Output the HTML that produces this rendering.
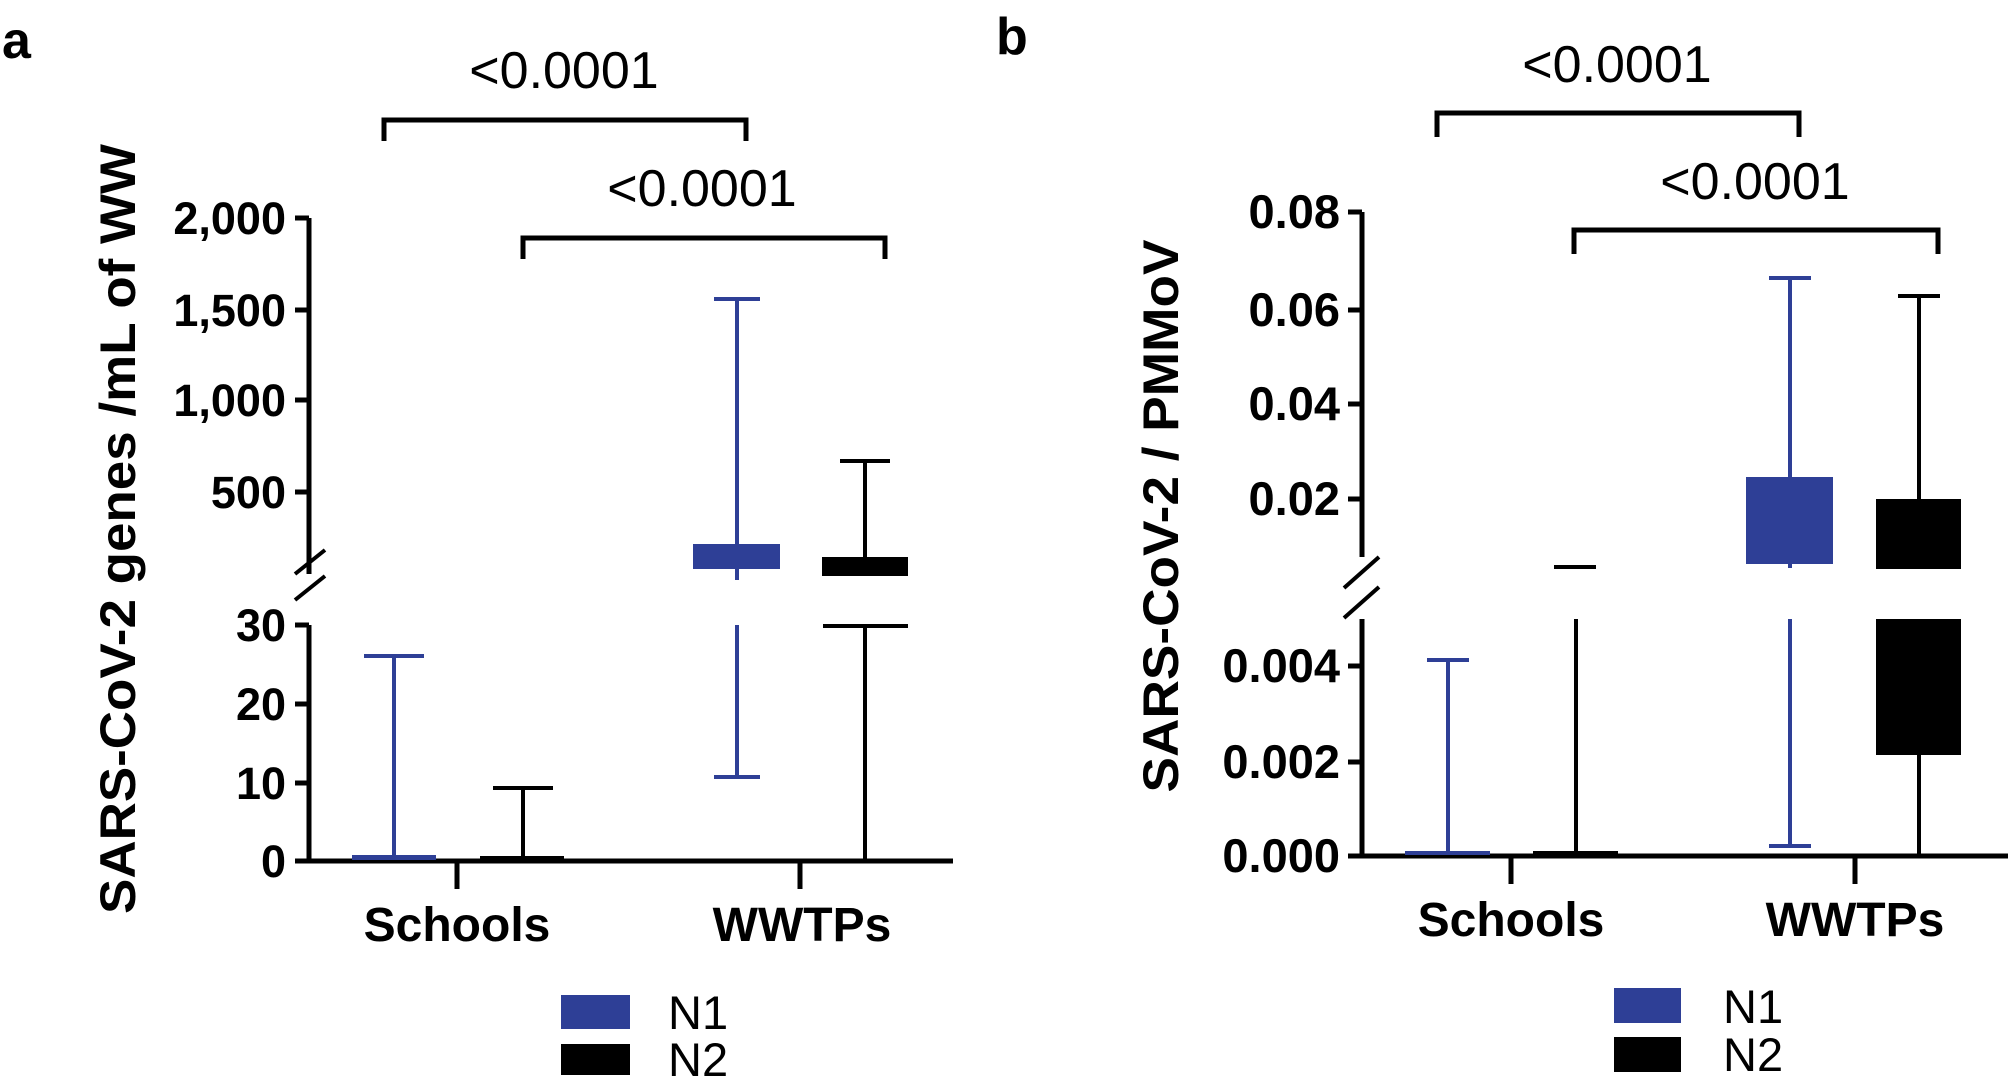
<!DOCTYPE html>
<html><head><meta charset="utf-8"><style>
html,body{margin:0;padding:0;background:#fff;}
svg{display:block;}
text{font-family:"Liberation Sans",Arial,sans-serif;}
.b{font-weight:bold;}
</style></head><body>
<svg width="2008" height="1091" viewBox="0 0 2008 1091" xmlns="http://www.w3.org/2000/svg">
<g stroke-linecap="butt">
<!-- Panel a -->
<text x="2" y="58" class="b" font-size="52">a</text>
<text x="564" y="88" font-size="52" text-anchor="middle">&lt;0.0001</text>
<path d="M384 141 V120 H746 V141" fill="none" stroke="#000" stroke-width="5"/>
<text x="702" y="206" font-size="52" text-anchor="middle">&lt;0.0001</text>
<path d="M523 259 V238 H885 V259" fill="none" stroke="#000" stroke-width="5"/>
<text transform="translate(135,529) rotate(-90)" class="b" font-size="50" text-anchor="middle" textLength="770" lengthAdjust="spacingAndGlyphs">SARS-CoV-2 genes /mL of WW</text>
<path d="M309 218 V574 M309 625 V861 H953" fill="none" stroke="#000" stroke-width="5"/>
<path d="M295 218 H309 M295 310 H309 M295 400 H309 M295 492 H309 M295 625 H309 M295 704 H309 M295 783 H309 M295 861 H309" stroke="#000" stroke-width="5"/>
<path d="M295 574 L325 550 M295 600 L325 576" stroke="#000" stroke-width="4"/>
<path d="M457 861 V889 M800 861 V889" stroke="#000" stroke-width="5"/>
<g class="b" font-size="45" text-anchor="end">
<text x="286" y="234">2,000</text><text x="286" y="326">1,500</text><text x="286" y="416">1,000</text><text x="286" y="508">500</text>
<text x="286" y="641">30</text><text x="286" y="720">20</text><text x="286" y="799">10</text><text x="286" y="877">0</text>
</g>
<text x="457" y="941" class="b" font-size="48" text-anchor="middle">Schools</text>
<text x="802" y="941" class="b" font-size="48" text-anchor="middle">WWTPs</text>
<g stroke="#2e3f96" stroke-width="4" fill="#2e3f96">
<path d="M394 858 V656 M364 656 H424" fill="none"/>
<rect x="352" y="855" width="84" height="5" stroke="none"/>
<path d="M737 299 V580 M714 299 H760" fill="none"/>
<rect x="693" y="544" width="87" height="25" stroke="none"/>
<path d="M737 625 V777 M714 777 H760" fill="none"/>
</g>
<g stroke="#000" stroke-width="4" fill="#000">
<path d="M523 858 V788 M493 788 H553" fill="none"/>
<rect x="480" y="856" width="84" height="5" stroke="none"/>
<path d="M865 461 V560 M840 461 H890" fill="none"/>
<rect x="822" y="557" width="86" height="19" stroke="none"/>
<path d="M823 626 H908 M865 626 V861" fill="none"/>
</g>
<rect x="561" y="995" width="69" height="34" fill="#2e3f96"/>
<rect x="561" y="1044" width="69" height="31" fill="#000"/>
<text x="668" y="1029" font-size="47">N1</text>
<text x="668" y="1076" font-size="47">N2</text>

<!-- Panel b -->
<text x="996" y="54" class="b" font-size="52">b</text>
<text x="1617" y="82" font-size="52" text-anchor="middle">&lt;0.0001</text>
<path d="M1437 137 V113 H1799 V137" fill="none" stroke="#000" stroke-width="5"/>
<text x="1755" y="199" font-size="52" text-anchor="middle">&lt;0.0001</text>
<path d="M1574 254 V230 H1938 V254" fill="none" stroke="#000" stroke-width="5"/>
<text transform="translate(1178,516) rotate(-90)" class="b" font-size="50" text-anchor="middle" textLength="553" lengthAdjust="spacingAndGlyphs">SARS-CoV-2 / PMMoV</text>
<path d="M1362 212 V557 M1362 619 V856 H2008" fill="none" stroke="#000" stroke-width="5"/>
<path d="M1348 212 H1362 M1348 310 H1362 M1348 404 H1362 M1348 499 H1362 M1348 666 H1362 M1348 762 H1362 M1348 856 H1362" stroke="#000" stroke-width="5"/>
<path d="M1344 588 L1379 557 M1344 618 L1379 587" stroke="#000" stroke-width="4"/>
<path d="M1511 856 V884 M1855 856 V884" stroke="#000" stroke-width="5"/>
<g class="b" font-size="47" text-anchor="end">
<text x="1340" y="228">0.08</text><text x="1340" y="326">0.06</text><text x="1340" y="420">0.04</text><text x="1340" y="515">0.02</text>
<text x="1340" y="682">0.004</text><text x="1340" y="778">0.002</text><text x="1340" y="872">0.000</text>
</g>
<text x="1511" y="936" class="b" font-size="48" text-anchor="middle">Schools</text>
<text x="1855" y="936" class="b" font-size="48" text-anchor="middle">WWTPs</text>
<g stroke="#2e3f96" stroke-width="4" fill="#2e3f96">
<path d="M1448 853 V660 M1427 660 H1469" fill="none"/>
<rect x="1405" y="851" width="85" height="4" stroke="none"/>
<path d="M1790 278 V568 M1769 278 H1811" fill="none"/>
<rect x="1746" y="477" width="87" height="87" stroke="none"/>
<path d="M1790 619 V846 M1769 846 H1811" fill="none"/>
</g>
<g stroke="#000" stroke-width="4" fill="#000">
<path d="M1554 567 H1596 M1576 619 V856" fill="none"/>
<rect x="1533" y="851" width="85" height="4" stroke="none"/>
<path d="M1919 296 V500 M1898 296 H1940" fill="none"/>
<rect x="1876" y="499" width="85" height="70" stroke="none"/>
<rect x="1876" y="619" width="85" height="136" stroke="none"/>
<path d="M1919 755 V856" fill="none"/>
</g>
<rect x="1614" y="988" width="67" height="35" fill="#2e3f96"/>
<rect x="1614" y="1037" width="67" height="35" fill="#000"/>
<text x="1723" y="1023" font-size="47">N1</text>
<text x="1723" y="1071" font-size="47">N2</text>
</g>
</svg>
</body></html>
